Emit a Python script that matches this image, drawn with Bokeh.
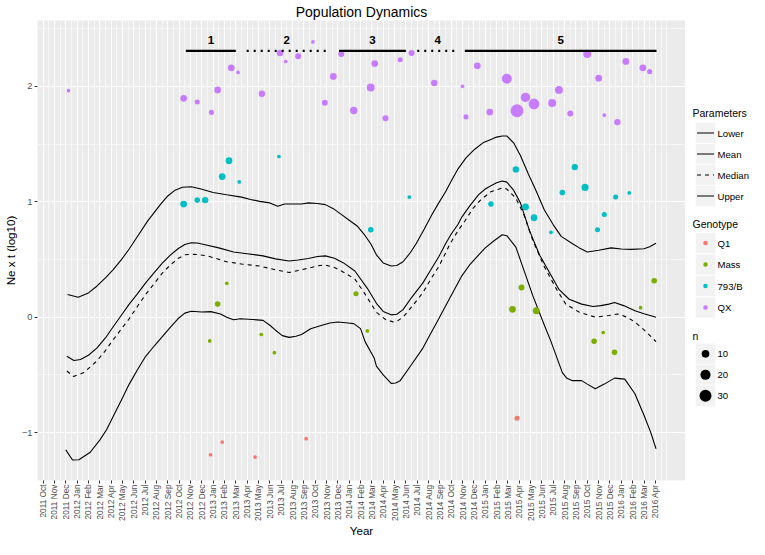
import math
from bokeh.plotting import figure
from bokeh.models import FixedTicker, Range1d
from bokeh.layouts import row
from bokeh.embed import file_html
from bokeh.resources import INLINE
from bokeh.core.properties import value

# ---------------- data ----------------
month_names = ["Jan", "Feb", "Mar", "Apr", "May", "Jun", "Jul", "Aug", "Sep", "Oct", "Nov", "Dec"]
tick_labels = []
for k in range(55):  # 2011 Oct ... 2016 Apr
    mi = 9 + k
    tick_labels.append(f"{2011 + mi // 12} {month_names[mi % 12]}")

# month index: 0 = 2011 Oct
upper_x = [2.16, 3.1, 4.0, 4.74, 5.5, 6.17, 7.0, 7.61, 8.47, 9.2, 10.34, 11.0, 11.64, 12.3, 13.07, 13.93, 15.0, 16.2, 17.5, 18.3,
           19.1, 20.0, 20.7, 21.3, 22.8, 23.4, 24.2, 24.9, 25.6, 26.3, 27.0, 27.7, 28.3, 28.9, 29.4, 30.0, 30.7, 31.2, 31.75, 32.4,
           32.9, 33.6, 34.3, 34.9, 35.5, 36.0, 36.6, 37.3, 38.07, 38.8, 39.5, 40.0, 40.5, 40.9, 41.5, 42.1, 42.8, 43.5, 44.2, 45.0,
           45.7, 46.7, 47.3, 48.0, 49.0, 50.1, 51.0, 51.9, 53.0, 53.5, 54.06]
upper_y = [0.197, 0.172, 0.21, 0.268, 0.34, 0.41, 0.51, 0.593, 0.72, 0.83, 0.975, 1.05, 1.10, 1.125, 1.13, 1.11, 1.08, 1.06, 1.04, 1.02,
           1.003, 0.99, 0.96, 0.98, 0.98, 0.99, 0.985, 0.975, 0.94, 0.89, 0.84, 0.79, 0.72, 0.636, 0.54, 0.47, 0.443, 0.447, 0.48, 0.56,
           0.636, 0.76, 0.89, 0.99, 1.087, 1.18, 1.285, 1.38, 1.455, 1.51, 1.54, 1.56, 1.57, 1.57, 1.51, 1.40, 1.24, 1.09, 0.93, 0.80,
           0.70, 0.636, 0.60, 0.565, 0.58, 0.60, 0.59, 0.587, 0.593, 0.61, 0.64]

mean_x = [2.1, 2.72, 3.3, 4.0, 4.74, 5.5, 6.17, 7.0, 7.6, 8.3, 9.05, 9.8, 10.5, 11.2, 11.9, 12.5, 13.07, 13.6, 14.2, 15.5,
          16.8, 18.0, 19.4, 20.5, 21.7, 22.5, 23.4, 24.2, 24.9, 25.7, 26.5, 27.5, 28.6, 29.4, 30.0, 30.7, 31.2, 31.75, 32.5, 33.5,
          34.2, 34.9, 35.5, 36.0, 36.6, 36.9, 37.6, 38.4, 39.0, 39.5, 40.0, 40.5, 40.9, 41.5, 42.1, 42.9, 43.8, 44.7, 45.5, 46.4,
          47.5, 48.5, 49.2, 49.9, 50.4, 51.2, 52.2, 53.0, 54.06]
mean_y = [-0.339, -0.376, -0.367, -0.33, -0.268, -0.18, -0.085, 0.03, 0.113, 0.2, 0.297, 0.385, 0.466, 0.535, 0.593, 0.63, 0.644, 0.642, 0.63, 0.60,
          0.565, 0.55, 0.531, 0.505, 0.486, 0.495, 0.508, 0.525, 0.531, 0.51, 0.47, 0.40, 0.25, 0.12, 0.05, 0.02, 0.025, 0.065, 0.17, 0.297,
          0.41, 0.523, 0.636, 0.72, 0.805, 0.862, 0.96, 1.06, 1.11, 1.138, 1.165, 1.18, 1.17, 1.10, 0.99, 0.75, 0.536, 0.38, 0.24, 0.155,
          0.113, 0.093, 0.10, 0.113, 0.127, 0.10, 0.056, 0.03, 0.0]

median_x = [2.1, 2.7, 3.6, 4.74, 5.5, 6.17, 7.0, 7.6, 8.3, 9.05, 9.8, 10.5, 11.2, 11.9, 12.5, 13.07, 13.6, 14.5, 16.2, 17.5,
            19.1, 20.5, 21.7, 22.5, 23.4, 24.2, 24.9, 25.7, 26.5, 27.5, 28.4, 29.4, 30.2, 30.9, 31.3, 31.75, 32.6, 33.5, 34.2, 34.9,
            35.9, 36.6, 37.2, 37.9, 38.6, 39.5, 40.1, 40.5, 40.9, 41.7, 42.4, 43.2, 44.2, 45.3, 46.1, 47.3, 48.7, 49.9, 50.7, 51.5,
            52.2, 53.0, 54.06]
median_y = [-0.466, -0.514, -0.48, -0.38, -0.29, -0.198, -0.09, -0.014, 0.09, 0.197, 0.29, 0.38, 0.45, 0.508, 0.54, 0.545, 0.542, 0.531, 0.48, 0.46,
            0.443, 0.41, 0.387, 0.405, 0.424, 0.445, 0.452, 0.43, 0.39, 0.33, 0.20, 0.042, -0.02, -0.042, -0.03, 0.0, 0.10, 0.212, 0.33, 0.438,
            0.636, 0.75, 0.833, 0.94, 1.017, 1.087, 1.105, 1.12, 1.11, 1.03, 0.89, 0.663, 0.438, 0.24, 0.113, 0.042, 0.0, 0.014, 0.028, 0.0,
            -0.042, -0.11, -0.212]

lower_x = [2.0, 2.6, 3.16, 4.16, 5.0, 5.6, 6.47, 7.0, 7.6, 8.3, 9.05, 9.8, 10.5, 11.2, 11.9, 12.5, 13.07, 14.0, 14.8, 15.65,
           16.2, 16.8, 17.4, 18.5, 19.4, 20.0, 20.5, 21.1, 21.7, 22.3, 22.8, 23.6, 24.6, 25.3, 26.0, 26.9, 27.4, 28.0, 28.4, 29.2,
           29.4, 30.0, 30.7, 31.1, 31.5, 32.5, 33.5, 34.2, 34.9, 35.9, 36.9, 37.6, 38.4, 39.0, 39.8, 40.5, 40.9, 41.7, 42.4, 43.2,
           44.1, 44.8, 45.8, 46.2, 46.7, 47.5, 48.0, 48.7, 49.5, 50.4, 51.3, 52.2, 53.0, 53.6, 54.06]
lower_y = [-1.15, -1.237, -1.235, -1.17, -1.065, -0.975, -0.805, -0.70, -0.58, -0.46, -0.339, -0.25, -0.17, -0.09, -0.014, 0.035, 0.051, 0.045, 0.048, 0.028,
           0.0, -0.023, -0.014, -0.02, -0.028, -0.07, -0.113, -0.16, -0.175, -0.165, -0.15, -0.10, -0.07, -0.05, -0.042, -0.051, -0.056, -0.099, -0.212, -0.353,
           -0.424, -0.50, -0.574, -0.57, -0.55, -0.41, -0.268, -0.14, -0.014, 0.17, 0.353, 0.45, 0.537, 0.60, 0.664, 0.714, 0.706, 0.607, 0.41, 0.184,
           -0.042, -0.212, -0.48, -0.53, -0.55, -0.55, -0.58, -0.62, -0.58, -0.528, -0.537, -0.664, -0.85, -1.0, -1.14]

qx_x = [2.24, 12.4, 13.6, 14.85, 15.4, 16.6, 17.2, 19.3, 20.9, 21.4, 22.5, 23.8, 24.85, 25.6, 26.3, 27.4, 28.9, 29.25, 30.2, 31.5,
        32.5, 34.5, 37.0, 37.3, 38.3, 39.4, 40.9, 41.8, 42.55, 43.3, 44.9, 45.5, 46.5, 48.0, 49.0, 49.5, 50.65, 51.4, 52.9, 53.5]
qx_y = [1.963, 1.896, 1.864, 1.774, 1.969, 2.16, 2.12, 1.935, 2.288, 2.215, 2.26, 2.384, 1.858, 2.085, 2.28, 1.79, 1.99, 2.197, 1.723, 2.23,
        2.288, 2.028, 2.0, 1.735, 2.178, 1.777, 2.065, 1.788, 1.904, 1.847, 1.856, 1.969, 1.765, 2.28, 2.07, 1.75, 1.69, 2.215, 2.16, 2.127]
qx_n = [1, 7, 3, 3, 7, 7, 1, 6, 6, 1, 5, 1, 5, 7, 5, 9, 11, 7, 5, 3,
        5, 6, 1, 3, 7, 7, 19, 36, 17, 23, 11, 11, 5, 11, 7, 1, 6, 7, 7, 3]

b793_x = [12.4, 13.6, 14.3, 15.8, 16.4, 17.3, 20.8, 28.9, 32.3, 39.5, 41.7, 42.55, 43.3, 44.8, 45.8, 46.9, 47.8, 48.9, 49.5, 50.5, 51.7]
b793_y = [0.98, 1.014, 1.014, 1.218, 1.356, 1.172, 1.392, 0.757, 1.04, 0.98, 1.28, 0.955, 0.862, 0.735, 1.079, 1.3, 1.124, 0.757, 0.89, 1.04, 1.076]
b793_n = [7, 4, 6, 7, 7, 1, 1, 4, 1, 4, 6, 7, 7, 1, 4, 6, 8, 3, 3, 3, 1]

mass_x = [14.7, 15.4, 16.2, 19.25, 20.4, 27.6, 28.6, 41.4, 42.2, 43.5, 48.6, 49.4, 50.4, 52.7, 53.9]
mass_y = [-0.206, 0.113, 0.294, -0.15, -0.308, 0.203, -0.119, 0.068, 0.257, 0.056, -0.209, -0.133, -0.305, 0.082, 0.316]
mass_n = [1, 4, 1, 1, 1, 3, 1, 7, 5, 8, 4, 1, 4, 1, 4]

q1_x = [14.77, 15.8, 18.7, 23.2, 41.8]
q1_y = [-1.192, -1.082, -1.212, -1.053, -0.876]
q1_n = [1, 1, 1, 1, 3]

seg_start = [12.6, 17.96, 26.1, 33.0, 37.2]
seg_end = [17.0, 25.0, 32.0, 36.6, 54.1]
seg_style = ["solid", "dotted", "solid", "dotted", "solid"]
seg_labels = ["1", "2", "3", "4", "5"]
seg_level = 2.307
seg_label_level = 2.40

genotypes = ["Q1", "Mass", "793/B", "QX"]
geno_colors = ["#F8766D", "#7CAE00", "#00BFC4", "#C77CFF"]
params = ["Lower", "Mean", "Median", "Upper"]
param_dash = ["solid", "solid", "4 4", "solid"]
n_breaks = [10, 20, 30]


def psize(n):
    return 1.85 * (1 + math.sqrt(n))


FONT = "Liberation Sans"
W, H = 685, 539
LW = 64

p = figure(width=W, height=H, output_backend="svg", toolbar_location=None,
           x_range=Range1d(-0.49, 56.66), y_range=Range1d(-1.415, 2.57),
           min_border_left=33, min_border_right=0, min_border_top=16, min_border_bottom=40,
           background_fill_color="#EBEBEB", border_fill_color="white", outline_line_color=None)
p.frame_align = False

p.title.text = "Population Dynamics"
p.title.align = "center"
p.title.text_font = FONT
p.title.text_font_size = "14px"
p.title.text_font_style = "normal"
p.title.text_color = "black"
p.title.standoff = 2

major_x = list(range(len(tick_labels)))
minor_x = [k + 0.5 for k in range(len(tick_labels))] + [len(tick_labels)]
p.xaxis.ticker = FixedTicker(ticks=major_x)
p.xaxis.major_label_overrides = {i: t for i, t in enumerate(tick_labels)}
p.xaxis.major_label_orientation = math.pi / 2
p.xgrid.ticker = FixedTicker(ticks=major_x, minor_ticks=minor_x)

major_y = [-1, 0, 1, 2]
minor_y = [-0.5, 0.5, 1.5, 2.5]
p.yaxis.ticker = FixedTicker(ticks=major_y)
p.yaxis.major_label_overrides = {-1: "\u22121", 0: "0", 1: "1", 2: "2"}
p.ygrid.ticker = FixedTicker(ticks=major_y, minor_ticks=minor_y)

for g in (p.xgrid, p.ygrid):
    g.grid_line_color = "white"
    g.grid_line_width = 1.1
    g.minor_grid_line_color = "white"
    g.minor_grid_line_width = 0.55

for ax in (p.xaxis, p.yaxis):
    ax.axis_line_color = None
    ax.major_tick_line_color = "#333333"
    ax.major_tick_out = 3
    ax.major_tick_in = 0
    ax.minor_tick_line_color = None
    ax.major_label_text_color = "#4D4D4D"
    ax.major_label_text_font = FONT
    ax.axis_label_text_font = FONT
    ax.axis_label_text_font_size = "11.6px"
    ax.axis_label_text_font_style = "normal"
    ax.axis_label_text_color = "black"

p.yaxis.major_label_standoff = 2
p.yaxis.axis_label_standoff = 2
p.xaxis.major_label_standoff = 1
p.xaxis.axis_label_standoff = 0
p.xaxis.axis_label_text_line_height = 1.0
p.xaxis.major_label_text_font_size = "8.3px"
p.yaxis.major_label_text_font_size = "9.3px"
p.xaxis.axis_label = "Year"
p.yaxis.axis_label = "Ne x t (log10)"

# lines
p.line(lower_x, lower_y, line_color="black", line_width=1.1)
p.line(mean_x, mean_y, line_color="black", line_width=1.1)
p.line(median_x, median_y, line_color="black", line_width=1.1, line_dash="4 4")
p.line(upper_x, upper_y, line_color="black", line_width=1.1)

# points
for gx, gy, gn, col in ((q1_x, q1_y, q1_n, geno_colors[0]), (mass_x, mass_y, mass_n, geno_colors[1]),
                        (b793_x, b793_y, b793_n, geno_colors[2]), (qx_x, qx_y, qx_n, geno_colors[3])):
    p.scatter(gx, gy, size=[psize(n) for n in gn], fill_color=col, line_color=None)

# period bars
for s, e, st in zip(seg_start, seg_end, seg_style):
    p.segment(x0=[s], y0=[seg_level], x1=[e], y1=[seg_level], line_color="black", line_width=2.3,
              line_dash=("2 5" if st == "dotted" else "solid"))
p.text(x=[(s + e) / 2 for s, e in zip(seg_start, seg_end)], y=[seg_label_level] * len(seg_labels), text=seg_labels,
       text_align="center", text_baseline="middle", text_font=value(FONT), text_font_style="bold",
       text_font_size="11.5px", text_color="black")

# ---------------- legend panel ----------------
lg = figure(width=LW, height=H, output_backend="svg", toolbar_location=None,
            x_range=Range1d(0, LW), y_range=Range1d(H, 0), min_border=0,
            x_axis_location=None, y_axis_location=None, outline_line_color=None,
            background_fill_color="white", border_fill_color="white")
lg.frame_align = False
lg.grid.visible = False

tx = 7
kx0, kx1 = 10, 30
lx = 32
ks = 21


def legend_title(y, txt):
    lg.text(x=[tx], y=[y], text=[txt], text_align="left", text_baseline="middle", text_font=value(FONT),
            text_font_size="10.5px", text_color="black")


def legend_keys(ys, labels):
    lg.quad(left=[kx0] * len(ys), right=[kx1] * len(ys), top=[y - ks / 2 for y in ys], bottom=[y + ks / 2 for y in ys],
            fill_color="#F2F2F2", line_color="white", line_width=0.6)
    lg.text(x=[lx] * len(ys), y=ys, text=labels, text_align="left", text_baseline="middle", text_font=value(FONT),
            text_font_size="9.6px", text_color="black")


# Parameters
legend_title(112, "Parameters")
par_y = [132.5 + ks * i for i in range(4)]
legend_keys(par_y, params)
for yy, dsh in zip(par_y, param_dash):
    lg.segment(x0=[kx0 + 1.5], y0=[yy], x1=[kx1 - 1.5], y1=[yy], line_color="black", line_width=1.1, line_dash=dsh)

# Genotype
legend_title(223.3, "Genotype")
gen_y = [242.5 + 21.5 * i for i in range(4)]
legend_keys(gen_y, genotypes)
lg.scatter([(kx0 + kx1) / 2] * 4, gen_y, size=4.5, fill_color=geno_colors, line_color=None)

# n
legend_title(335, "n")
n_y = [353.3 + ks * i for i in range(3)]
legend_keys(n_y, [str(v) for v in n_breaks])
lg.scatter([(kx0 + kx1) / 2] * 3, n_y, size=[psize(v) for v in n_breaks], fill_color="black", line_color=None)

layout = row(p, lg)
open("out.html", "w").write(file_html(layout, INLINE))
